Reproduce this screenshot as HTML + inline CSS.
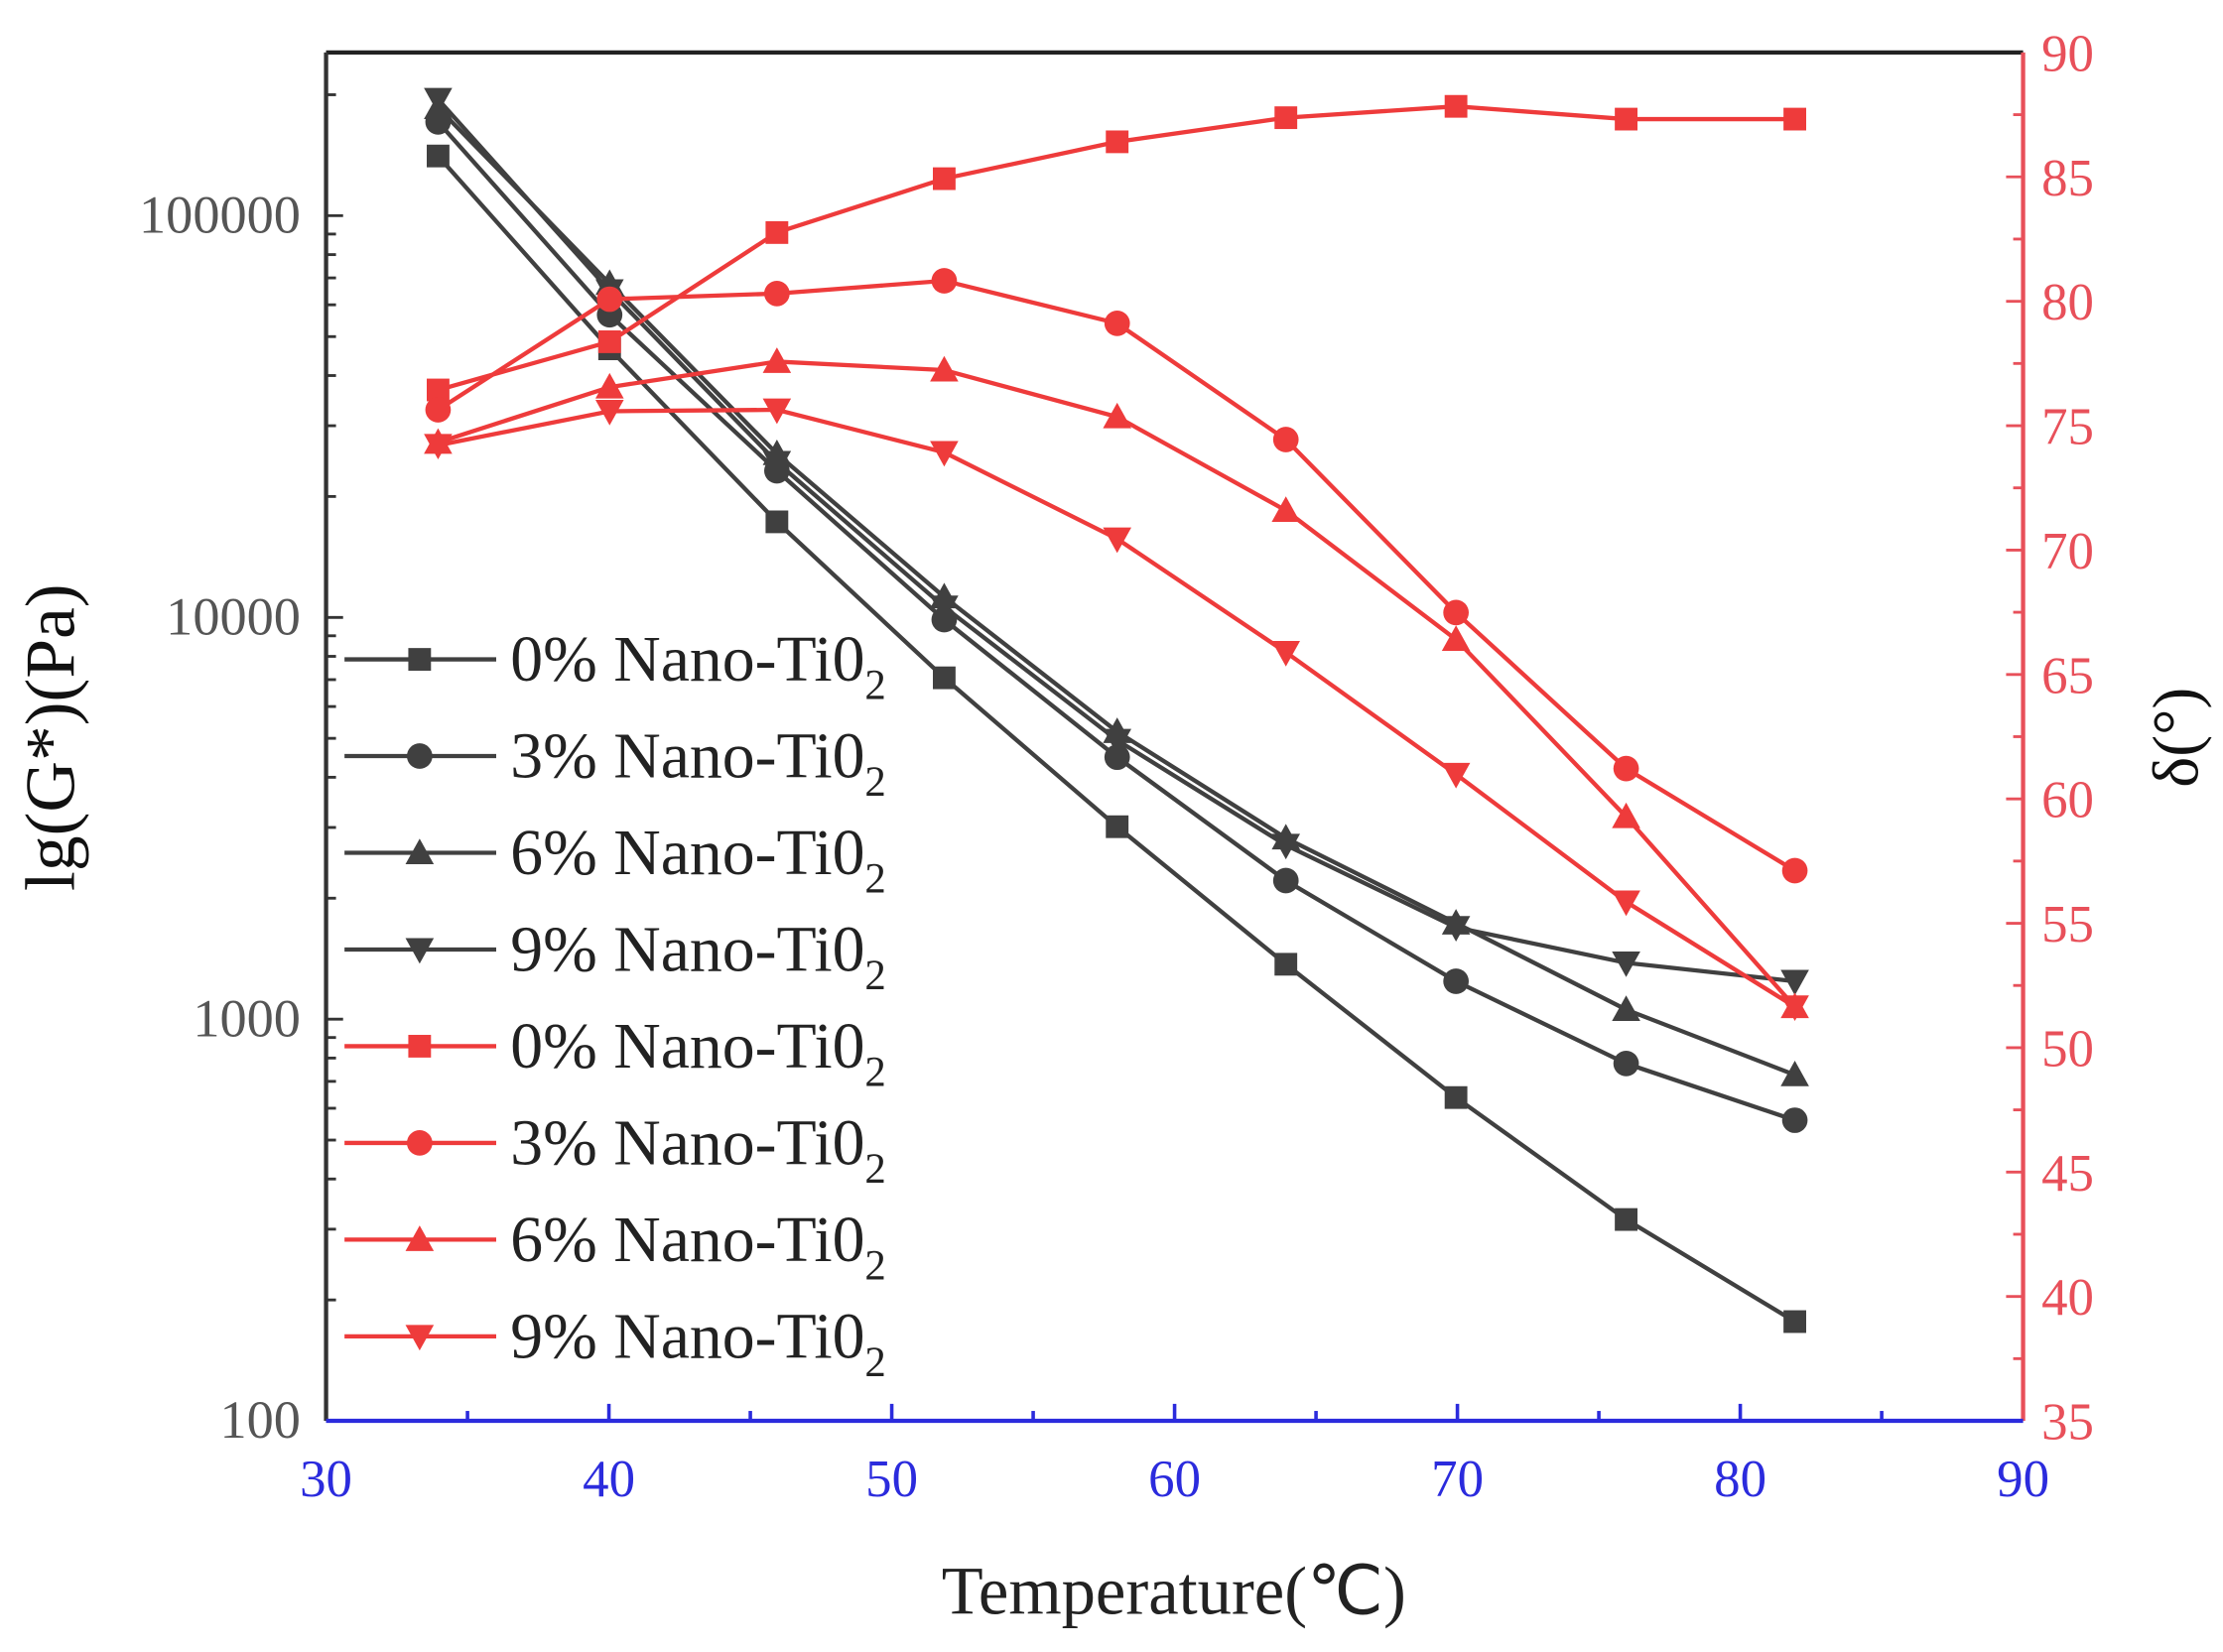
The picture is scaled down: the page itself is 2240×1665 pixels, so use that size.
<!DOCTYPE html>
<html><head><meta charset="utf-8"><style>html,body{margin:0;padding:0;background:#fff}svg{display:block}</style></head>
<body>
<svg id="c" width="2240" height="1665" viewBox="0 0 1568 1165" preserveAspectRatio="none" xmlns="http://www.w3.org/2000/svg" font-family="Liberation Serif, serif">
<rect width="1568" height="1165" fill="#fff"/>
<g id="g"></g>
<line x1="230" y1="37" x2="1427" y2="37" stroke="#222" stroke-width="3"/>
<line x1="230" y1="37" x2="230" y2="1002" stroke="#333" stroke-width="3"/>
<line x1="1427" y1="37" x2="1427" y2="1002" stroke="#e8505a" stroke-width="3"/>
<line x1="230" y1="1002" x2="1427" y2="1002" stroke="#2b2bdd" stroke-width="3"/>
<text x="52" y="520" font-size="50" fill="#111" text-anchor="middle" transform="rotate(-90 52 520)">lg(G*)(Pa)</text>
<text x="1550" y="520" font-size="46" fill="#111" text-anchor="middle" transform="rotate(-90 1550 520)">δ(°)</text>
<text x="828" y="1138" font-size="48" fill="#222" text-anchor="middle">Temperature(℃)</text>
</svg>
<script>
const g=document.getElementById('g');let h='';
const X=t=>230+(t-30)*19.95;
for(let t=30;t<=90;t+=5){const x=X(t);const L=t%10==0?12:7;h+=`<line x1="${x}" y1="1002" x2="${x}" y2="${1002-L}" stroke="#2b2bdd" stroke-width="2.5"/>`;if(t%10==0)h+=`<text x="${x}" y="1055" font-size="37" fill="#2b2bdd" text-anchor="middle">${t}</text>`;}
const LY=v=>1002-(Math.log10(v)-2)*283.3;
for(let d=2;d<=5;d++){for(let m=1;m<=9;m++){const v=m*Math.pow(10,d);const y=LY(v);if(y<37)break;h+=`<line x1="230" y1="${y}" x2="${230+(m==1?12:7)}" y2="${y}" stroke="#333" stroke-width="2"/>`;}
h+=`<text x="212" y="${LY(Math.pow(10,d))+12}" font-size="38" fill="#555" text-anchor="end">${Math.pow(10,d)}</text>`;}
const RY=v=>1002-(v-35)*(965/55);
for(let v=35;v<=90;v+=2.5){const y=RY(v);const maj=v%5==0;h+=`<line x1="1427" y1="${y}" x2="${1427-(maj?12:7)}" y2="${y}" stroke="#e8505a" stroke-width="2"/>`;if(maj)h+=`<text x="1440" y="${y+13}" font-size="37" fill="#e8505a">${v}</text>`;}
const xs=[309,430,548,666,788,907,1027,1147,1266];
const G='#404040',R='#ee3b3b';
const S=[
[G,'s',[110,246,368,478,583,680,774,860,932]],
[G,'c',[86,222,332,437,534,621,692,750,790]],
[G,'t',[76,200,320,421,516,591,651,712,758]],
[G,'v',[70,205,326,428,522,596,654,679,692]],
[R,'s',[275,241,164,126,100,83,75,84,84]],
[R,'c',[289,211,207,198,228,310,432,542,614]],
[R,'t',[312,273,255,261,294,360,451,576,710]],
[R,'v',[314,290,289,319,380,460,546,636,710]]];
function mk(x,y,t,c){if(t=='s')return `<rect x="${x-8}" y="${y-8}" width="16" height="16" fill="${c}"/>`;
if(t=='c')return `<circle cx="${x}" cy="${y}" r="9" fill="${c}"/>`;
if(t=='t')return `<polygon points="${x},${y-10} ${x-10},${y+8} ${x+10},${y+8}" fill="${c}"/>`;
return `<polygon points="${x},${y+10} ${x-10},${y-8} ${x+10},${y-8}" fill="${c}"/>`;}
const pct=['0%','3%','6%','9%'];
S.forEach((s,i)=>{h+=`<polyline fill="none" stroke="${s[0]}" stroke-width="3" points="${xs.map((x,j)=>x+','+s[2][j]).join(' ')}"/>`;
xs.forEach((x,j)=>h+=mk(x,s[2][j],s[1],s[0]));
const ly=465+i*68.2;h+=`<line x1="243" y1="${ly}" x2="350" y2="${ly}" stroke="${s[0]}" stroke-width="3"/>`+mk(296,ly,s[1],s[0]);
h+=`<text x="360" y="${ly+15}" font-size="46" fill="#222">${pct[i%4]} Nano-Ti0<tspan font-size="30" dy="13">2</tspan></text>`;});
g.innerHTML=h;
</script>
</body></html>
